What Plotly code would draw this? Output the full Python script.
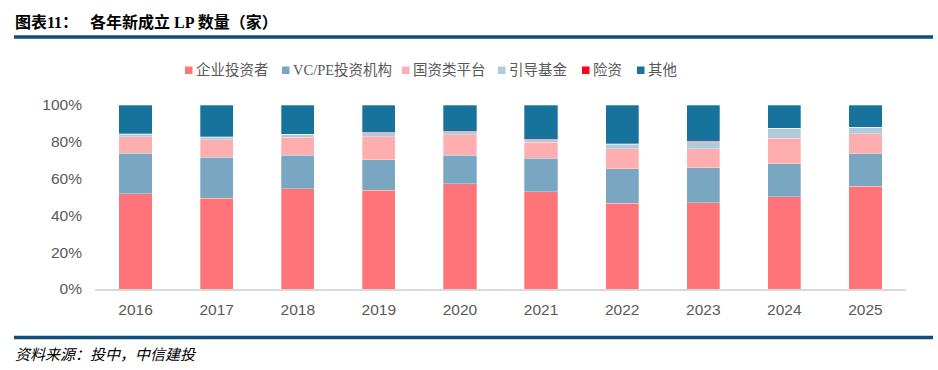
import plotly.graph_objects as go

years = ["2016", "2017", "2018", "2019", "2020", "2021", "2022", "2023", "2024", "2025"]
series_names = ["企业投资者", "VC/PE投资机构", "国资类平台", "引导基金", "险资", "其他"]
corp = [51.7, 49.2, 54.4, 53.7, 57.3, 52.8, 46.7, 47.0, 50.1, 55.9]
vcpe = [22.1, 22.4, 18.3, 16.6, 15.4, 18.3, 18.6, 18.8, 18.1, 17.7]
state = [8.9, 9.6, 9.9, 12.5, 11.2, 8.6, 11.0, 10.5, 13.7, 10.7]
guide = [1.3, 1.3, 1.5, 2.0, 1.5, 1.3, 2.4, 3.6, 5.6, 3.6]
insur = [0.5, 0.3, 0.1, 0.4, 0.3, 0.4, 0.3, 0.4, 0.0, 0.0]
other = [15.5, 17.2, 15.8, 14.8, 14.3, 18.6, 21.0, 19.7, 12.5, 12.1]
colors = ["#FF7479", "#79A7C1", "#FFAEB0", "#B0CADA", "#FF0022", "#18739C"]
tick_pct = [0, 20, 40, 60, 80, 100]

W, H = 938, 370
L, R, T, B = 95, 906, 105, 289  # plot area in pixels


def px(x):
    return (x - L) / (R - L)


def py(y):
    return (B - y) / (B - T)


fig = go.Figure()
for name, vals, c in zip(series_names, [corp, vcpe, state, guide, insur, other], colors):
    fig.add_trace(go.Bar(
        x=years, y=[v / 100 for v in vals], name=name,
        marker=dict(color=c, line=dict(color="rgba(255,255,255,0.6)", width=0.5)),
        width=0.41, showlegend=False,
    ))

# legend (swatches + labels), positioned manually
legend_sq_x = [185, 282, 402, 498, 582, 637]
shapes = [
    dict(type="line", xref="paper", yref="paper", x0=px(14), x1=px(933),
         y0=py(37), y1=py(37), line=dict(color="#0E4F80", width=3.5)),
    dict(type="line", xref="paper", yref="paper", x0=px(14), x1=px(933),
         y0=py(337.5), y1=py(337.5), line=dict(color="#0E4F80", width=3.5)),
]
annotations = []
for name, c, sx in zip(series_names, colors, legend_sq_x):
    shapes.append(dict(type="rect", xref="paper", yref="paper",
                       x0=px(sx), x1=px(sx + 7.5), y0=py(74), y1=py(66.5),
                       fillcolor=c, line=dict(width=0)))
    annotations.append(dict(text=name, xref="paper", yref="paper", x=px(sx + 9), y=py(70),
                            xanchor="left", yanchor="middle", showarrow=False,
                            font=dict(family="Liberation Serif, Noto Sans CJK SC", size=14.5,
                                      color="#595959")))

annotations += [
    dict(text="<b>图表11：&nbsp;&nbsp;&nbsp;各年新成立 LP 数量（家）</b>", xref="paper", yref="paper",
         x=px(13), y=py(22), xanchor="left", yanchor="middle", showarrow=False,
         font=dict(family="Liberation Serif, Noto Sans CJK SC", size=16, color="#000000")),
    dict(text="<i>资料来源：投中，中信建投</i>", xref="paper", yref="paper",
         x=px(13), y=py(353), xanchor="left", yanchor="middle", showarrow=False,
         font=dict(family="Noto Sans CJK SC", size=15, color="#000000")),
]

fig.update_layout(
    barmode="stack",
    width=W, height=H,
    margin=dict(l=L, r=W - R, t=T, b=H - B, autoexpand=False),
    paper_bgcolor="white", plot_bgcolor="white",
    font=dict(family="Liberation Sans, Noto Sans CJK SC", size=15, color="#595959"),
    showlegend=False,
    xaxis=dict(showline=True, linecolor="#D9D9D9", linewidth=1.5, ticks="",
               ticklabelstandoff=6, tickfont=dict(size=15.5, color="#595959")),
    yaxis=dict(range=[0, 1], tickvals=[v / 100 for v in tick_pct],
               ticktext=[f"{v}%" for v in tick_pct],
               showgrid=False, zeroline=False, ticks="", ticklabelstandoff=12,
               tickfont=dict(size=15.5, color="#595959")),
    shapes=shapes,
    annotations=annotations,
)

fig.write_html("out.html", config={"displayModeBar": False},
               post_script="document.body.style.margin='0px';")
